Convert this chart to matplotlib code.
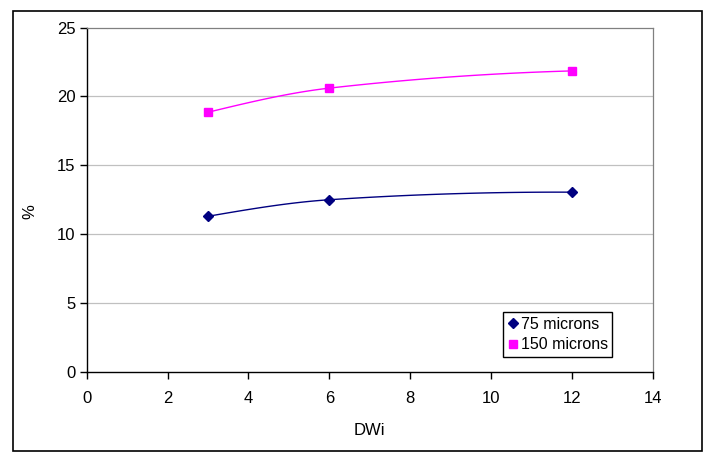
import numpy as np
import matplotlib
matplotlib.use("Agg")
import matplotlib.pyplot as plt
from matplotlib.patches import Rectangle

plt.rcParams['font.family'] = ['Liberation Sans', 'DejaVu Sans']

# data
dwi = [3, 6, 12]
pct_75 = [11.3, 12.5, 13.05]
pct_150 = [18.85, 20.6, 21.85]
series_names = ['75 microns', '150 microns']
x_ticks = [0, 2, 4, 6, 8, 10, 12, 14]
y_ticks = [0, 5, 10, 15, 20, 25]


def smooth(xs, ys, n=60):
    # smoothed line like Excel: cubic Hermite through the points,
    # central-difference slopes inside, softened slope at the start,
    # parabolic slope at the end
    x = np.asarray(xs, float)
    y = np.asarray(ys, float)
    chord = np.diff(y) / np.diff(x)
    m = np.empty_like(x)
    m[1:-1] = (y[2:] - y[:-2]) / (x[2:] - x[:-2])
    m[0] = 0.5 * (chord[0] + (2 * chord[0] - m[1]))
    m[-1] = 2 * chord[-1] - m[-2]
    out_x, out_y = [], []
    t = np.linspace(0, 1, n)
    for i in range(len(x) - 1):
        h = x[i + 1] - x[i]
        h00 = 2 * t ** 3 - 3 * t ** 2 + 1
        h10 = t ** 3 - 2 * t ** 2 + t
        h01 = -2 * t ** 3 + 3 * t ** 2
        h11 = t ** 3 - t ** 2
        out_x.append(x[i] + t * h)
        out_y.append(h00 * y[i] + h10 * h * m[i] + h01 * y[i + 1] + h11 * h * m[i + 1])
    return np.concatenate(out_x), np.concatenate(out_y)


fig = plt.figure(figsize=(7.11, 4.57), dpi=100)
ax = fig.add_axes([86.7 / 711, 1 - 372 / 457, (652.7 - 86.7) / 711, (372 - 27.5) / 457])

# outer chart border
fig.patches.append(Rectangle((12.5 / 711, 1 - 451 / 457), 689.5 / 711, 440 / 457,
                             transform=fig.transFigure, fill=False,
                             edgecolor='black', linewidth=1.2))

ax.set_xlim(0, 14)
ax.set_ylim(0, 25)
ax.set_xticks(x_ticks)
ax.set_yticks(y_ticks)
for yv in y_ticks[1:-1]:
    ax.axhline(yv, color='#c0c0c0', linewidth=0.9, zorder=0)

sx, sy = smooth(dwi, pct_75)
ax.plot(sx, sy, color='#000080', linewidth=1.0)
ax.plot(dwi, pct_75, linestyle='none', marker='D', markersize=5.5,
        color='#000080', label=series_names[0])

sx, sy = smooth(dwi, pct_150)
ax.plot(sx, sy, color='#ff00ff', linewidth=1.0)
ax.plot(dwi, pct_150, linestyle='none', marker='s', markersize=6,
        color='#ff00ff', label=series_names[1])

for side in ['top', 'right']:
    ax.spines[side].set_color('#808080')
    ax.spines[side].set_linewidth(0.9)
for side in ['left', 'bottom']:
    ax.spines[side].set_color('black')
    ax.spines[side].set_linewidth(1.0)

ax.tick_params(direction='out', length=5, width=1, labelsize=12)
ax.tick_params(axis='y', pad=3)
ax.tick_params(axis='x', pad=9)
ax.set_xlabel('DWi', fontsize=12)
ax.xaxis.set_label_coords(0.5, (372 - 423) / 344.5)
ax.set_ylabel('%', fontsize=12)
ax.yaxis.set_label_coords((37 - 86.7) / 566, (372 - 212) / 344.5)

leg = ax.legend(loc='lower left', bbox_to_anchor=((503 - 86.7) / 566, (372 - 357) / 344.5),
                fontsize=11.5, frameon=True, fancybox=False, framealpha=1,
                edgecolor='black', borderpad=0.3, handletextpad=0.2,
                handlelength=0.6, labelspacing=0.35, borderaxespad=0)
leg.get_frame().set_linewidth(1.0)

fig.savefig('out.png', dpi=100)
